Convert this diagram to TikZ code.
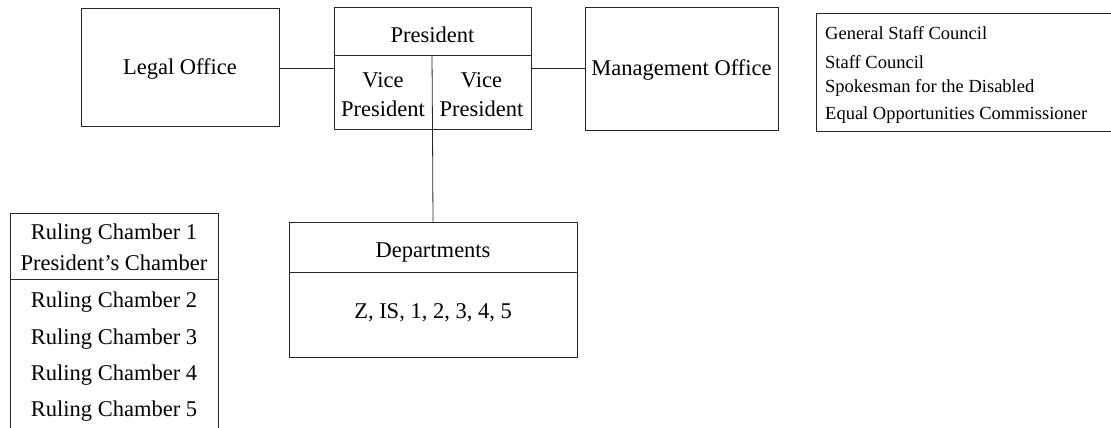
\documentclass[tikz,border=0pt]{standalone}
\usepackage{fontspec}
\setmainfont{Liberation Serif}
\begin{document}
\begin{tikzpicture}[x=1pt,y=-1pt,
  line/.style={draw=black!85,line width=0.8pt},
  box/.style={line,rectangle,inner sep=0pt},
  big/.style={font=\fontsize{22.5}{28}\selectfont,inner sep=0pt,align=center},
  small/.style={font=\fontsize{18.5}{22}\selectfont,inner sep=0pt,anchor=west}]
\useasboundingbox (0,0) rectangle (1111,428);
\clip (0,0) rectangle (1111,428);

% top row
\node[box,minimum width=198pt,minimum height=118pt] (legal) at (180,67) {};
\node[big] (legalt) at (180,69.5) {Legal Office};

\node[box,minimum width=197pt,minimum height=122pt] (pres) at (432.5,68) {};
\draw[line] (334,55) -- (531,55);
\draw[line] (432,55) -- (pres.south);
\node[big] (prest) at (432.5,35) {President};
\node[big] (vp1) at (383,95) {Vice\\[1pt]President};
\node[big] (vp2) at (481.5,95) {Vice\\[1pt]President};

\node[box,minimum width=193pt,minimum height=123pt] (mgmt) at (681.5,68.5) {};
\node[big] (mgmtt) at (681.5,70) {Management Office};

\node[box,minimum width=295pt,minimum height=118pt] (council) at (963.5,72) {};
\node[small] (c1) at (825,33) {General Staff Council};
\node[small] (c2) at (825,62) {Staff Council};
\node[small] (c3) at (825,88) {Spokesman for the Disabled};
\node[small] (c4) at (825,115) {Equal Opportunities Commissioner};

\draw[line] (legal.east |- 0,68) -- (pres.west |- 0,68);
\draw[line] (pres.east |- 0,68) -- (mgmt.west |- 0,68);

% departments
\node[box,minimum width=288pt,minimum height=135pt] (dept) at (433,289.5) {};
\draw[line] (289,272) -- (577,272);
\node[big] (deptt) at (433,253) {Departments};
\node[big] (deptl) at (433,313) {Z, IS, 1, 2, 3, 4, 5};
\draw[line] (pres.south) -- (dept.north);

% ruling chambers, open towards the bottom
\coordinate (rcbl) at (10,440);
\coordinate (rcbr) at (218,440);
\draw[line] (rcbl) |- (218,213) -- (rcbr);
\draw[line] (10,279) -- (218,279);
\node[big] (rc1) at (114,234) {Ruling Chamber 1};
\node[big] (pc) at (114,262.5) {President’s Chamber};
\node[big] (rc2) at (114,302) {Ruling Chamber 2};
\node[big] (rc3) at (114,339) {Ruling Chamber 3};
\node[big] (rc4) at (114,375) {Ruling Chamber 4};
\node[big] (rc5) at (114,411) {Ruling Chamber 5};
\end{tikzpicture}
\end{document}
